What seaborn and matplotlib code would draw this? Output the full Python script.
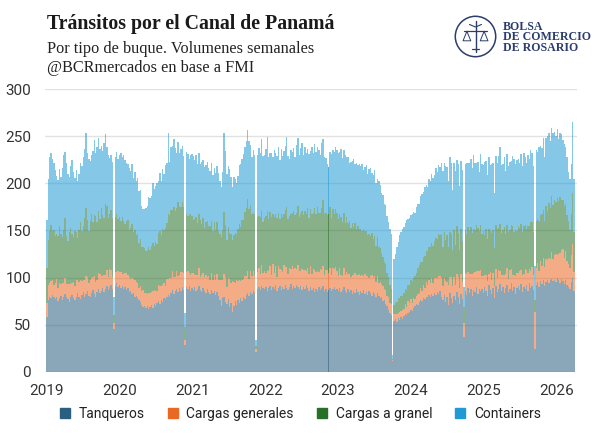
import matplotlib
matplotlib.use("Agg")
import matplotlib.pyplot as plt
from matplotlib.lines import Line2D
from matplotlib.patches import Circle
import numpy as np
import pandas as pd
import seaborn as sns

# transitos semanales por tipo de buque (desde la semana del 1/1/2019)
tanqueros = [
    58, 76, 80, 78, 82, 79, 77, 80, 75, 78, 81, 76, 79, 83, 80, 77, 74, 79, 82, 78, 76, 80, 84, 79, 77, 82,
    85, 80, 83, 86, 81, 79, 84, 87, 83, 80, 85, 88, 84, 86, 89, 85, 88, 91, 87, 90, 92, 88, 46, 91, 94, 90,
    92, 89, 91, 88, 90, 87, 89, 85, 86, 83, 84, 80, 81, 78, 76, 74, 71, 69, 70, 68, 70, 67, 69, 71, 68, 72,
    70, 73, 75, 72, 76, 74, 78, 77, 80, 82, 79, 84, 87, 83, 86, 88, 85, 89, 86, 90, 87, 29, 90, 88, 91, 86,
    89, 87, 90, 86, 88, 91, 87, 85, 89, 86, 84, 88, 85, 83, 87, 84, 86, 82, 85, 81, 76, 70, 78, 80, 74, 72,
    77, 69, 73, 64, 70, 75, 71, 76, 73, 78, 75, 80, 77, 82, 84, 81, 85, 83, 86, 84, 21, 88, 90, 87, 91, 89,
    88, 90, 86, 89, 91, 87, 90, 88, 92, 86, 89, 91, 87, 90, 88, 92, 89, 87, 90, 93, 88, 91, 89, 92, 90, 88,
    91, 87, 90, 88, 92, 89, 86, 90, 87, 89, 85, 88, 86, 90, 87, 89, 91, 86, 88, 85, 87, 89, 86, 88, 90, 87,
    88, 86, 89, 85, 87, 90, 86, 84, 88, 85, 87, 83, 86, 84, 88, 85, 82, 86, 84, 87, 83, 85, 82, 86, 84, 81,
    85, 83, 80, 84, 81, 78, 79, 75, 76, 72, 70, 66, 63, 60, 12, 54, 56, 53, 57, 55, 58, 56, 59, 61, 60, 63,
    64, 66, 65, 68, 70, 72, 71, 74, 76, 75, 78, 77, 80, 79, 82, 80, 83, 81, 84, 82, 85, 83, 86, 80, 76, 82,
    74, 79, 71, 84, 78, 73, 81, 76, 85, 79, 72, 83, 77, 37, 86, 82, 89, 84, 88, 81, 87, 85, 90, 83, 88, 86,
    88, 84, 90, 86, 81, 92, 87, 83, 89, 78, 91, 85, 88, 93, 86, 90, 84, 89, 92, 85, 88, 94, 86, 90, 83, 89,
    91, 87, 93, 85, 90, 88, 92, 86, 94, 89, 91, 87, 24, 92, 95, 90, 96, 93, 97, 91, 95, 98, 94, 97, 99, 96,
    98, 95, 100, 97, 94, 99, 96, 93, 97, 92, 90, 88, 95, 100, 86,
]
cargas_generales = [
    15, 16, 14, 18, 15, 13, 17, 19, 14, 16, 12, 18, 15, 17, 13, 16, 19, 14, 12, 17, 15, 18, 13, 16, 20, 14,
    12, 17, 19, 15, 13, 18, 16, 14, 19, 15, 12, 17, 20, 16, 13, 18, 15, 17, 14, 19, 16, 13, 6, 15, 12, 17,
    14, 17, 13, 16, 15, 18, 14, 16, 13, 17, 15, 18, 14, 16, 13, 17, 15, 18, 14, 16, 13, 17, 15, 14, 18, 15,
    16, 13, 17, 19, 15, 18, 16, 14, 19, 17, 21, 16, 20, 18, 15, 19, 17, 14, 20, 16, 18, 5, 16, 19, 14, 17,
    16, 18, 14, 17, 15, 19, 14, 18, 16, 15, 19, 13, 17, 15, 18, 14, 17, 15, 19, 16, 22, 28, 20, 24, 27, 18,
    23, 30, 21, 32, 25, 19, 26, 20, 24, 18, 22, 19, 25, 20, 23, 18, 22, 19, 21, 18, 3, 18, 20, 17, 22, 16,
    19, 15, 22, 18, 21, 16, 24, 17, 20, 15, 23, 18, 21, 16, 25, 19, 22, 17, 20, 16, 24, 18, 21, 17, 23, 19,
    16, 22, 18, 20, 15, 21, 18, 22, 17, 20, 23, 18, 21, 16, 22, 19, 21, 17, 20, 23, 18, 21, 17, 22, 19, 24,
    19, 16, 21, 18, 15, 20, 17, 22, 16, 19, 14, 20, 17, 21, 15, 18, 22, 16, 19, 15, 21, 17, 20, 14, 18, 22,
    16, 19, 15, 18, 13, 17, 14, 16, 12, 15, 11, 13, 10, 12, 1, 7, 5, 8, 6, 9, 7, 10, 8, 11, 9, 12,
    9, 11, 8, 10, 7, 9, 12, 10, 13, 11, 14, 12, 15, 13, 16, 14, 17, 13, 16, 18, 15, 19, 16, 20, 15, 18,
    22, 16, 21, 17, 23, 18, 20, 16, 19, 22, 17, 21, 18, 15, 19, 22, 17, 20, 16, 23, 18, 21, 17, 24, 19, 22,
    14, 18, 13, 17, 15, 12, 19, 14, 16, 13, 18, 15, 20, 14, 17, 13, 19, 15, 18, 14, 20, 15, 17, 13, 19, 16,
    14, 20, 15, 18, 14, 21, 16, 19, 15, 18, 20, 16, 40, 18, 21, 17, 22, 19, 24, 20, 25, 21, 27, 23, 28, 24,
    26, 30, 24, 28, 32, 30, 34, 28, 31, 26, 24, 22, 29, 36, 20,
]
cargas_granel = [
    37, 48, 55, 60, 52, 58, 50, 47, 55, 61, 53, 49, 57, 63, 51, 46, 55, 60, 52, 48, 58, 50, 45, 56, 62, 53,
    58, 66, 72, 60, 55, 63, 68, 58, 64, 70, 62, 66, 58, 72, 64, 60, 75, 68, 62, 58, 64, 62, 8, 58, 62, 55,
    58, 54, 60, 56, 52, 55, 58, 50, 54, 57, 49, 53, 50, 52, 48, 50, 46, 45, 47, 44, 46, 48, 45, 49, 51, 47,
    52, 50, 55, 58, 54, 60, 57, 62, 59, 68, 66, 72, 65, 74, 70, 67, 78, 72, 69, 74, 70, 14, 62, 58, 61, 64,
    60, 56, 58, 61, 55, 57, 60, 54, 58, 52, 56, 59, 53, 57, 55, 51, 56, 53, 55, 52, 48, 45, 52, 66, 55, 50,
    54, 48, 52, 44, 50, 53, 49, 56, 60, 58, 64, 62, 68, 72, 76, 74, 70, 66, 62, 65, 4, 58, 55, 60, 58, 54,
    56, 60, 63, 55, 58, 61, 54, 59, 56, 62, 57, 53, 60, 58, 55, 61, 64, 58, 55, 59, 57, 62, 56, 60, 63, 57,
    60, 62, 58, 63, 60, 64, 59, 61, 64, 60, 66, 62, 68, 63, 60, 66, 70, 64, 61, 58, 62, 65, 60, 63, 59, 62,
    62, 60, 58, 61, 57, 59, 55, 58, 54, 56, 52, 55, 51, 53, 49, 52, 48, 50, 46, 49, 45, 47, 43, 46, 42, 44,
    40, 42, 39, 41, 38, 36, 33, 31, 29, 27, 24, 22, 19, 16, 1, 10, 12, 13, 15, 14, 16, 15, 17, 16, 18, 17,
    19, 21, 23, 22, 25, 24, 27, 29, 28, 31, 30, 34, 33, 36, 35, 38, 37, 40, 39, 42, 41, 44, 43, 46, 42, 48,
    44, 50, 40, 47, 45, 38, 49, 43, 51, 46, 40, 48, 44, 17, 46, 42, 48, 45, 50, 43, 47, 44, 49, 46, 42, 48,
    44, 47, 42, 49, 45, 48, 43, 50, 46, 40, 47, 52, 45, 50, 44, 48, 51, 42, 46, 49, 43, 47, 52, 45, 48, 44,
    50, 46, 49, 45, 51, 47, 44, 50, 46, 52, 48, 45, 12, 50, 46, 53, 48, 55, 51, 49, 56, 52, 58, 54, 60, 57,
    58, 55, 60, 56, 59, 53, 52, 55, 50, 48, 46, 40, 44, 54, 42,
]
containers = [
    51, 65, 79, 76, 77, 72, 70, 62, 60, 60, 61, 73, 79, 70, 78, 71, 59, 65, 79, 69, 57, 66, 61, 59, 63, 69,
    73, 73, 79, 71, 77, 64, 62, 75, 80, 67, 79, 77, 74, 66, 68, 80, 74, 62, 67, 60, 58, 60, 20, 64, 65, 64,
    66, 72, 64, 70, 68, 62, 59, 65, 60, 63, 58, 61, 57, 60, 55, 52, 44, 41, 42, 46, 47, 54, 55, 53, 63, 60,
    59, 64, 56, 62, 57, 63, 59, 66, 64, 86, 57, 66, 68, 72, 66, 58, 64, 57, 61, 60, 54, 15, 65, 66, 60, 63,
    66, 68, 63, 66, 62, 65, 59, 66, 62, 64, 60, 63, 61, 58, 62, 60, 57, 61, 59, 62, 57, 53, 62, 83, 78, 70,
    64, 68, 61, 56, 62, 58, 54, 56, 62, 66, 65, 70, 68, 71, 74, 72, 64, 60, 66, 63, 6, 66, 72, 68, 76, 70,
    67, 71, 78, 66, 62, 68, 60, 71, 64, 66, 69, 63, 68, 65, 66, 68, 74, 67, 61, 67, 64, 66, 62, 72, 72, 66,
    70, 72, 64, 68, 65, 62, 68, 61, 70, 63, 68, 65, 64, 66, 61, 69, 65, 61, 58, 55, 50, 58, 68, 62, 65, 66,
    66, 70, 65, 72, 68, 66, 72, 64, 70, 62, 70, 66, 72, 63, 70, 64, 69, 66, 72, 63, 68, 70, 65, 69, 72, 64,
    68, 70, 66, 62, 70, 67, 64, 66, 61, 63, 60, 58, 60, 58, 4, 49, 52, 58, 60, 67, 67, 71, 70, 70, 74, 70,
    71, 68, 72, 70, 67, 70, 68, 65, 70, 72, 69, 73, 70, 68, 72, 70, 73, 72, 70, 74, 71, 73, 72, 76, 80, 74,
    78, 72, 70, 80, 76, 64, 72, 78, 70, 74, 68, 72, 75, 21, 70, 76, 68, 73, 72, 69, 78, 72, 66, 70, 63, 75,
    74, 70, 78, 72, 68, 76, 70, 74, 71, 59, 73, 70, 76, 81, 72, 70, 74, 67, 75, 70, 72, 68, 74, 78, 70, 76,
    71, 69, 74, 70, 77, 72, 70, 75, 71, 76, 73, 70, 36, 75, 71, 78, 74, 70, 76, 68, 72, 79, 74, 71, 72, 76,
    72, 70, 74, 66, 68, 70, 64, 66, 60, 62, 52, 55, 52, 75, 57,
]

series = ["Tanqueros", "Cargas generales", "Cargas a granel", "Containers"]
colores = ["#2a5f80", "#eb6823", "#267028", "#2199d3"]
anios = list(range(2019, 2027))
y_ticks = [0, 50, 100, 150, 200, 250, 300]
semana_duplicada = "2022-11-15"  # semana cargada dos veces en la fuente

fechas = pd.date_range("2019-01-01", periods=len(tanqueros), freq="7D")
df = pd.DataFrame({
    "fecha": fechas,
    "Tanqueros": tanqueros,
    "Cargas generales": cargas_generales,
    "Cargas a granel": cargas_granel,
    "Containers": containers,
})
df = pd.concat([df, df[df["fecha"] == semana_duplicada]], ignore_index=True)

sns.set_theme(style="whitegrid")
plt.rcParams["font.family"] = ["Roboto", "DejaVu Sans"]

fig = plt.figure(figsize=(6, 4.34), dpi=100)
ax = fig.add_axes([0.075, 0.1429, 0.887, 0.652])

base = np.zeros(len(df))
for name, color in zip(series, colores):
    vals = df[name].to_numpy(dtype=float)
    ax.bar(df["fecha"], vals, bottom=base, width=7, color=color, alpha=0.55, linewidth=0)
    base = base + vals

ax.set_xlim(pd.Timestamp("2018-12-22"), pd.Timestamp("2026-04-16"))
ax.set_ylim(0, 300)
ax.set_xticks([pd.Timestamp(f"{a}-01-01") for a in anios])
ax.set_xticklabels([str(a) for a in anios])
ax.set_yticks(y_ticks)
ax.grid(axis="y", color="#e2e2e2", linewidth=1.0)
ax.grid(axis="x", visible=False)
ax.tick_params(axis="both", length=0, labelsize=11, colors="#333333")
ax.tick_params(axis="y", pad=10)
ax.tick_params(axis="x", pad=9)
ax.set_xlabel("")
ax.set_ylabel("")
sns.despine(ax=ax, left=True, bottom=True)

serif = ["Liberation Serif", "DejaVu Serif"]
fig.text(47 / 600, 1 - 29 / 434, "Tránsitos por el Canal de Panamá", fontsize=14.3,
         fontweight="bold", family=serif, color="#1a1a1a", va="baseline")
fig.text(47 / 600, 1 - 53 / 434, "Por tipo de buque. Volumenes semanales", fontsize=11.7,
         family=serif, color="#222222", va="baseline")
fig.text(47 / 600, 1 - 72 / 434, "@BCRmercados en base a FMI", fontsize=11.7,
         family=serif, color="#222222", va="baseline")

# logo
navy = "#2b3d6d"
lax = fig.add_axes([454 / 600, 1 - 58 / 434, 43 / 600, 43 / 434])
lax.set_xlim(0, 1)
lax.set_ylim(0, 1)
lax.set_aspect("equal")
lax.axis("off")
lax.add_patch(Circle((0.5, 0.5), 0.47, fill=False, ec=navy, lw=1.1))
lax.plot([0.5, 0.5], [0.15, 0.86], color=navy, lw=1.0)
lax.plot([0.24, 0.76], [0.62, 0.62], color=navy, lw=0.9)
for cx in (0.3, 0.7):
    lax.plot([cx, cx - 0.09, cx + 0.09, cx], [0.62, 0.4, 0.4, 0.62], color=navy, lw=0.7)
lax.plot([0.36, 0.5, 0.64], [0.78, 0.72, 0.78], color=navy, lw=0.8)
lax.plot([0.42, 0.58], [0.2, 0.2], color=navy, lw=0.9)
for i, linea in enumerate(["BOLSA", "DE COMERCIO", "DE ROSARIO"]):
    fig.text(503 / 600, 1 - (30 + 10.5 * i) / 434, linea, fontsize=8.6, fontweight="bold",
             family=serif, color=navy, va="baseline")

handles = [Line2D([], [], marker="s", linestyle="", markersize=6.5, color=c) for c in colores]
fig.legend(handles, series, loc="center", bbox_to_anchor=(0.5, 1 - 414 / 434), ncol=4,
           frameon=False, fontsize=10, handlelength=0.8, handletextpad=0.6,
           columnspacing=1.6, labelcolor="#222222")

fig.savefig("out.png", dpi=100)
